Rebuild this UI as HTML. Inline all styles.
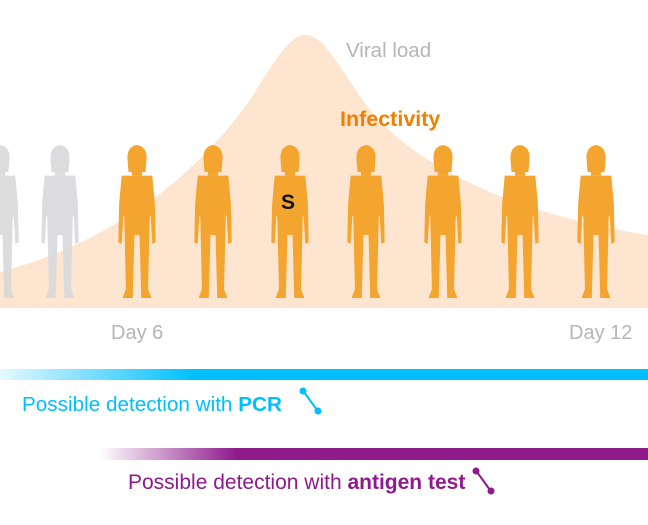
<!DOCTYPE html>
<html><head><style>
body{margin:0;width:648px;height:525px;background:#fff;overflow:hidden;position:relative;font-family:"Liberation Sans",sans-serif}
.t{position:absolute;white-space:nowrap}
</style></head><body>
<svg width="648" height="525" style="position:absolute;left:0;top:0">
<defs>
<linearGradient id="pcr" x1="0" x2="1"><stop offset="0" stop-color="#00bfff" stop-opacity="0.1"/><stop offset="0.3" stop-color="#00bfff"/><stop offset="1" stop-color="#00bfff"/></linearGradient>
<linearGradient id="ag" x1="0" x2="1"><stop offset="0" stop-color="#8e1a8c" stop-opacity="0"/><stop offset="0.25" stop-color="#8e1a8c"/><stop offset="1" stop-color="#8e1a8c"/></linearGradient>
<g id="fig0">
<path d="M-11,-2 Q-13,-18 0,-20 Q13,-18 11,-2 L10,10 L-10,10 Z" />
<rect x="-6" y="8" width="12" height="6"/>
<path d="M-18,14 L18,14 L21,45 L22,88 L18,90 L16,58 L15,60 L13,140 L17,150 L5,150 L3,80 L-3,80 L-5,150 L-17,150 L-13,140 L-15,60 L-16,58 L-18,90 L-22,88 L-21,45 Z"/>
</g>
<g id="fig"><use href="#fig0" transform="scale(0.85,0.9)"/></g>
</defs>
<path d="M0,272 C120,240 200,170 250,100 C275,60 290,35 305,35 C325,35 340,70 370,110 C420,170 520,215 648,235 L648,308 L0,308 Z" fill="#fde5cf"/>
<g transform="translate(0,163)" fill="#d6d6d8" opacity="0.85"><use href="#fig"/></g>
<g transform="translate(60,163)" fill="#d9d9dc" opacity="0.9"><use href="#fig"/></g>
<g fill="#f3a530">
<use href="#fig" x="137" y="163"/><use href="#fig" x="213" y="163"/><use href="#fig" x="290" y="163"/><use href="#fig" x="366" y="163"/><use href="#fig" x="443" y="163"/><use href="#fig" x="520" y="163"/><use href="#fig" x="596" y="163"/>
</g>
<rect x="0" y="369" width="648" height="11" fill="url(#pcr)"/>
<rect x="100" y="448" width="548" height="12" fill="url(#ag)"/>
<g stroke="#00bfff" stroke-width="2" fill="#00bfff"><line x1="304" y1="392" x2="317" y2="410"/><circle cx="303" cy="391" r="2.5"/><circle cx="318" cy="411" r="2.5"/></g>
<g stroke="#8e1a8c" stroke-width="2" fill="#8e1a8c"><line x1="477" y1="472" x2="490" y2="490"/><circle cx="476" cy="471" r="2.5"/><circle cx="491" cy="491" r="2.5"/></g>
</svg>
<div class="t" style="left:346px;top:39px;font-size:20.5px;color:#b5b5b5">Viral load</div>
<div class="t" style="left:340px;top:107px;font-size:21.5px;font-weight:bold;color:#f07f00">Infectivity</div>
<div class="t" style="left:281px;top:191px;font-size:21px;font-weight:bold;color:#111">S</div>
<div class="t" style="left:111px;top:322px;font-size:20px;color:#b5b5b5">Day 6</div>
<div class="t" style="left:569px;top:322px;font-size:20px;color:#b5b5b5">Day 12</div>
<div class="t" style="left:22px;top:393px;font-size:20.7px;color:#00bfff">Possible detection with <b>PCR</b></div>
<div class="t" style="left:128px;top:471px;font-size:21px;color:#8e1a8c">Possible detection with <b>antigen test</b></div>
</body></html>
